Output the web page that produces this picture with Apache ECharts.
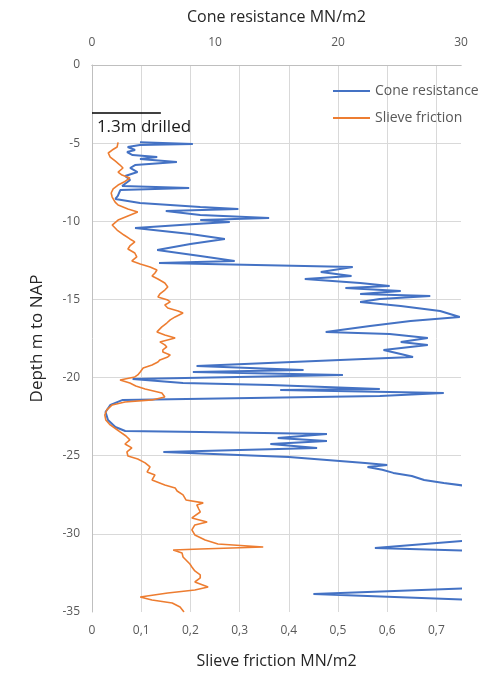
<!DOCTYPE html>
<html>
<head>
<meta charset="utf-8">
<script src="https://cdn.jsdelivr.net/npm/echarts@6/dist/echarts.min.js"></script>
<style>
  html, body { margin: 0; padding: 0; background: #ffffff; }
  #chart { width: 483px; height: 675px; }
</style>
</head>
<body>
<div id="chart"></div>
<script>
// CPT log: depth (m to NAP) against cone resistance and sleeve friction

// Cone resistance trace (MN/m2) with its depths; values past 30 run off the scale
const coneDepth = [
  -4.95, -5.05, -5.12, -5.25, -5.44, -5.57, -5.76, -5.89, -6.01, -6.21,
  -6.40, -6.59, -6.85, -7.10, -7.36, -7.74, -7.87, -8.00, -8.38, -8.57,
  -8.83, -9.08, -9.21, -9.34, -9.60, -9.79, -9.92, -10.04, -10.17, -10.43,
  -10.81, -11.13, -11.45, -11.84, -12.22, -12.54, -12.67, -12.92, -13.24, -13.50,
  -13.69, -13.95, -14.14, -14.27, -14.46, -14.65, -14.78, -14.97, -15.16, -15.42,
  -15.74, -16.12, -16.38, -16.70, -17.08, -17.21, -17.47, -17.72, -17.91, -18.23,
  -18.49, -18.68, -18.81, -19.26, -19.51, -19.64, -19.83, -20.09, -20.35, -20.47,
  -20.73, -20.80, -20.99, -21.18, -21.30, -21.43, -21.75, -22.20, -22.71, -23.16,
  -23.42, -23.48, -23.61, -23.86, -24.06, -24.25, -24.50, -24.76, -25.08, -25.46,
  -25.60, -25.72, -25.90, -26.10, -26.30, -26.55, -26.75, -26.90, -27.00, -28.50,
  -30.20, -30.39, -30.90, -31.09, -32.00, -33.30, -33.46, -33.85, -34.23, -34.60
];
const coneValue = [
  3.9, 8.2, 3.9, 2.9, 3.5, 2.85, 3.3, 5.3, 3.9, 6.9,
  3.5, 3.1, 3.7, 2.7, 3.1, 2.45, 7.9, 2.3, 2.1, 1.9,
  3.9, 8.8, 11.9, 6.0, 8.8, 14.4, 8.8, 11.2, 8.4, 3.5,
  8.0, 10.8, 8.0, 5.3, 8.8, 11.6, 5.45, 21.2, 18.6, 21.1,
  17.3, 21.8, 24.2, 20.6, 25.1, 21.8, 27.5, 23.4, 21.8, 25.1,
  28.3, 29.9, 25.9, 22.6, 19.0, 24.2, 27.3, 25.1, 27.3, 23.7,
  25.1, 26.1, 22.1, 8.5, 17.2, 8.2, 20.4, 3.3, 7.4, 14.5,
  23.4, 15.3, 28.6, 23.4, 12.9, 2.5, 1.5, 1.1, 1.3, 1.9,
  2.7, 8.8, 19.1, 15.1, 19.1, 14.5, 18.3, 5.8, 16.0, 22.2,
  24.0, 22.4, 23.6, 24.5, 26.0, 27.0, 28.6, 30.1, 31.2, 38,
  38, 31.2, 23.0, 31.2, 38, 38, 31.2, 18.0, 31.2, 38
];

// Sleeve friction trace (MN/m2) with its depths
const frictionDepth = [
  -4.95, -5.25, -5.44, -5.63, -5.89, -6.14, -6.40, -6.59, -6.85, -7.04,
  -7.23, -7.49, -7.68, -7.93, -8.19, -8.45, -8.77, -8.96, -9.21, -9.41,
  -9.66, -9.92, -10.24, -10.56, -10.88, -11.13, -11.32, -11.58, -11.77, -12.03,
  -12.28, -12.54, -12.73, -12.92, -13.12, -13.31, -13.50, -13.69, -13.95, -14.20,
  -14.40, -14.65, -14.84, -15.04, -15.16, -15.36, -15.55, -15.74, -15.87, -16.12,
  -16.31, -16.51, -16.76, -17.08, -17.27, -17.47, -17.72, -17.91, -18.04, -18.23,
  -18.36, -18.55, -18.68, -18.87, -19.00, -19.19, -19.39, -19.64, -19.83, -19.96,
  -20.15, -20.35, -20.54, -20.73, -20.99, -21.24, -21.43, -21.56, -21.75, -22.07,
  -22.39, -22.71, -23.03, -23.29, -23.48, -23.74, -23.99, -24.25, -24.50, -24.76,
  -25.02, -25.21, -25.46, -25.72, -26.04, -26.23, -26.55, -26.87, -27.06, -27.26,
  -27.51, -27.83, -28.02, -28.15, -28.41, -28.60, -28.98, -29.24, -29.43, -29.75,
  -30.07, -30.39, -30.65, -30.84, -30.97, -31.03, -31.22, -31.48, -31.67, -31.93,
  -32.12, -32.37, -32.63, -32.82, -33.08, -33.40, -33.59, -33.78, -34.04, -34.23,
  -34.42, -34.68, -35.00
];
const frictionValue = [
  0.053, 0.051, 0.041, 0.033, 0.037, 0.047, 0.057, 0.063, 0.053, 0.061,
  0.077, 0.065, 0.053, 0.043, 0.039, 0.041, 0.047, 0.053, 0.073, 0.093,
  0.073, 0.053, 0.041, 0.051, 0.065, 0.077, 0.087, 0.077, 0.073, 0.087,
  0.091, 0.081, 0.098, 0.118, 0.132, 0.128, 0.122, 0.134, 0.148, 0.154,
  0.148, 0.138, 0.134, 0.154, 0.159, 0.148, 0.154, 0.175, 0.185, 0.169,
  0.159, 0.152, 0.142, 0.132, 0.148, 0.169, 0.138, 0.148, 0.152, 0.144,
  0.144, 0.159, 0.154, 0.138, 0.134, 0.122, 0.104, 0.098, 0.093, 0.087,
  0.057, 0.077, 0.089, 0.108, 0.142, 0.148, 0.122, 0.067, 0.041, 0.030,
  0.026, 0.028, 0.037, 0.049, 0.057, 0.069, 0.077, 0.067, 0.081, 0.071,
  0.073, 0.093, 0.108, 0.118, 0.112, 0.128, 0.122, 0.148, 0.169, 0.173,
  0.185, 0.191, 0.226, 0.213, 0.217, 0.220, 0.203, 0.234, 0.209, 0.203,
  0.209, 0.230, 0.256, 0.348, 0.220, 0.165, 0.183, 0.185, 0.191, 0.199,
  0.203, 0.209, 0.220, 0.220, 0.209, 0.236, 0.209, 0.154, 0.098, 0.122,
  0.163, 0.179, 0.187
];

// Marker for the pre-drilled top section
const drilledDepth = -3.07;
const drilledCone = [0, 5.6];
const drilledText = '1.3m drilled';

// Axis tick values
const depthTicks = [0, -5, -10, -15, -20, -25, -30, -35];
const coneTicks = [0, 10, 20, 30];
const frictionTicks = [0, 0.1, 0.2, 0.3, 0.4, 0.5, 0.6, 0.7];

const FONT = 'Open Sans';
const TEXT = '#595959';
const TITLE = '#262626';
const GRID = '#d9d9d9';
const AXIS = '#bfbfbf';

const zip = (xs, ys) => xs.map((x, i) => [x, ys[i]]);

const chart = echarts.init(document.getElementById('chart'), null, { renderer: 'canvas' });

chart.setOption({
  animation: false,
  backgroundColor: '#ffffff',
  textStyle: { fontFamily: FONT },
  grid: { left: 92, right: 22, top: 65, bottom: 63, containLabel: false },
  legend: {
    orient: 'vertical',
    left: 328,
    top: 78,
    itemWidth: 37,
    itemHeight: 2,
    itemGap: 11,
    icon: 'rect',
    data: ['Cone resistance', 'Slieve friction'],
    textStyle: { color: TEXT, fontSize: 14, lineHeight: 16, fontFamily: FONT }
  },
  xAxis: [
    {
      type: 'value',
      position: 'bottom',
      min: frictionTicks[0],
      max: 0.75,
      interval: frictionTicks[1] - frictionTicks[0],
      name: 'Slieve friction MN/m2',
      nameLocation: 'middle',
      nameGap: 41,
      nameTextStyle: { color: TITLE, fontSize: 16, fontFamily: FONT },
      axisLine: { show: true, lineStyle: { color: AXIS, width: 1 } },
      axisTick: { show: false },
      axisLabel: {
        color: TEXT, fontSize: 12, margin: 13, showMaxLabel: false,
        formatter: v => (frictionTicks.some(t => Math.abs(t - v) < 1e-9) ? String(+v.toFixed(1)).replace('.', ',') : '')
      },
      splitLine: { show: true, showMinLine: false, showMaxLine: false, lineStyle: { color: GRID, width: 1 } }
    },
    {
      type: 'value',
      position: 'top',
      min: coneTicks[0],
      max: coneTicks[coneTicks.length - 1],
      interval: coneTicks[1] - coneTicks[0],
      name: 'Cone resistance MN/m2',
      nameLocation: 'middle',
      nameGap: 40,
      nameTextStyle: { color: TITLE, fontSize: 16, fontFamily: FONT },
      axisLine: { show: true, lineStyle: { color: AXIS, width: 1 } },
      axisTick: { show: false },
      axisLabel: { color: TEXT, fontSize: 12, margin: 16 },
      splitLine: { show: false }
    }
  ],
  yAxis: {
    type: 'value',
    min: depthTicks[depthTicks.length - 1],
    max: depthTicks[0],
    interval: depthTicks[0] - depthTicks[1],
    name: 'Depth m to NAP',
    nameLocation: 'middle',
    nameGap: 46,
    nameRotate: 90,
    nameTextStyle: { color: TITLE, fontSize: 17, fontFamily: FONT },
    axisLine: { show: true, lineStyle: { color: AXIS, width: 1 } },
    axisTick: { show: false },
    axisLabel: { color: TEXT, fontSize: 12, margin: 12 },
    splitLine: { show: true, showMinLine: false, showMaxLine: false, lineStyle: { color: GRID, width: 1 } }
  },
  series: [
    {
      name: 'Cone resistance',
      type: 'line',
      xAxisIndex: 1,
      data: zip(coneValue, coneDepth),
      symbol: 'none',
      clip: true,
      lineStyle: { color: '#4472c4', width: 2 },
      itemStyle: { color: '#4472c4' },
      z: 3
    },
    {
      name: 'Slieve friction',
      type: 'line',
      xAxisIndex: 0,
      data: zip(frictionValue, frictionDepth),
      symbol: 'none',
      clip: true,
      lineStyle: { color: '#ed7d31', width: 1.6 },
      itemStyle: { color: '#ed7d31' },
      z: 4
    },
    {
      name: 'drilled',
      type: 'line',
      xAxisIndex: 1,
      data: drilledCone.map(c => [c, drilledDepth]),
      symbol: 'none',
      silent: true,
      lineStyle: { color: '#000000', width: 1.5 },
      itemStyle: { color: '#000000' },
      endLabel: {
        show: true,
        formatter: drilledText,
        color: '#1a1a1a',
        fontSize: 17,
        fontFamily: FONT,
        align: 'left',
        offset: [-72, 14]
      },
      z: 5
    }
  ]
});
</script>
</body>
</html>
